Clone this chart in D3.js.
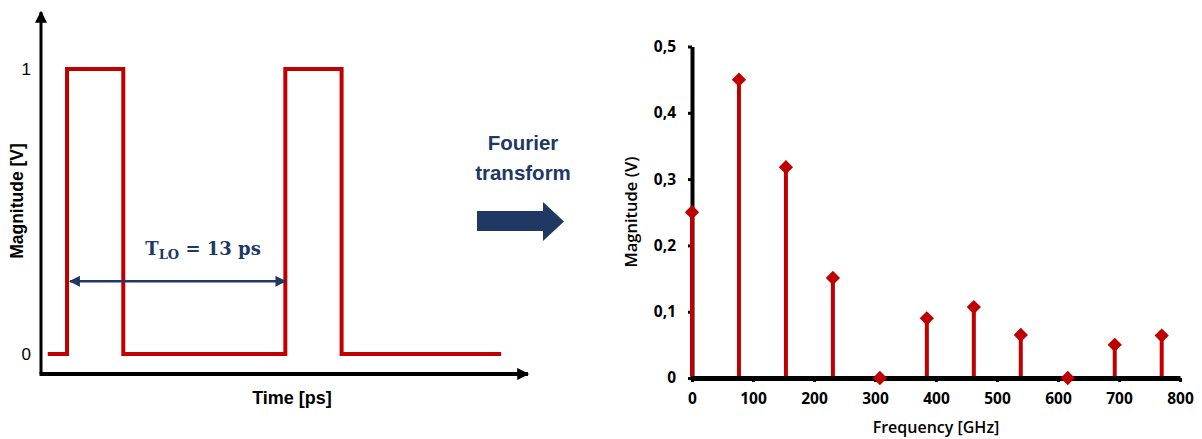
<!DOCTYPE html>
<html>
<head>
<meta charset="utf-8">
<script src="https://cdn.jsdelivr.net/npm/d3@7"></script>
<style>
  body { margin: 0; background: #ffffff; }
  svg { display: block; }
</style>
</head>
<body>
<div id="chart"></div>
<script>
// time-domain square wave (left panel)
var pulseTimes  = [0.4, 1.55, 1.55, 4.9, 4.9, 14.55, 14.55, 17.9, 17.9, 27.4];
var pulseLevels = [0,   0,    1,    1,   0,   0,     1,     1,    0,    0];
var levelTicks = [0, 1];
var periodStart = 1.55, periodEnd = 14.55, periodLevel = 0.255;

// spectrum (right panel)
var harmonicFreqs = [0, 77, 154, 231, 308, 385, 462, 539, 616, 693, 770];
var harmonicMags  = [0.25, 0.45, 0.318, 0.151, 0, 0.09, 0.107, 0.065, 0, 0.05, 0.064];
var freqTicks = [0, 100, 200, 300, 400, 500, 600, 700, 800];
var magTicks = [0, 0.1, 0.2, 0.3, 0.4, 0.5];
var magTickLabels = ["0", "0,1", "0,2", "0,3", "0,4", "0,5"];

var width = 1202, height = 439;
var red = "#c00000", navy = "#203864";

var svg = d3.select("#chart").append("svg")
    .attr("width", width)
    .attr("height", height);
svg.append("rect").attr("width", width).attr("height", height).attr("fill", "#fff");

var defs = svg.append("defs");
function arrowMarker(id, color, w, h) {
    defs.append("marker")
        .attr("id", id)
        .attr("viewBox", "0 0 10 10")
        .attr("refX", 9).attr("refY", 5)
        .attr("markerUnits", "userSpaceOnUse")
        .attr("markerWidth", w).attr("markerHeight", h)
        .attr("orient", "auto-start-reverse")
        .append("path")
        .attr("d", "M0,0L10,5L0,10Z")
        .attr("fill", color);
}
arrowMarker("blackArrow", "#000", 14, 12);
arrowMarker("navyArrow", navy, 13, 11);

// ---------- left panel ----------
var xT = d3.scaleLinear().domain([0, 29]).range([41, 528]);
var yT = d3.scaleLinear().domain([0, 1]).range([354, 69]);
var left = svg.append("g").attr("class", "left");

// axes with arrow heads
left.append("line")
    .attr("x1", xT(0)).attr("y1", yT(-0.07))
    .attr("x2", xT(0)).attr("y2", yT(1.2))
    .attr("stroke", "#000").attr("stroke-width", 3)
    .attr("marker-end", "url(#blackArrow)");
left.append("line")
    .attr("x1", xT(0) - 1.5).attr("y1", yT(-0.07))
    .attr("x2", xT(29)).attr("y2", yT(-0.07))
    .attr("stroke", "#000").attr("stroke-width", 4)
    .attr("marker-end", "url(#blackArrow)");

var yAxisT = left.append("g")
    .attr("transform", "translate(" + xT(0) + ",0)")
    .call(d3.axisLeft(yT).tickValues(levelTicks).tickFormat(d3.format("d")).tickSize(0).tickPadding(10));
yAxisT.select(".domain").remove();
yAxisT.selectAll("text")
    .attr("font-family", "Liberation Sans, Arial, sans-serif")
    .attr("font-size", 17).attr("fill", "#000");

var pulse = d3.range(pulseTimes.length).map(function (i) {
    return { t: pulseTimes[i], v: pulseLevels[i] };
});
var line = d3.line()
    .x(function (d) { return xT(d.t); })
    .y(function (d) { return yT(d.v); });
left.append("path")
    .datum(pulse)
    .attr("d", line)
    .attr("fill", "none")
    .attr("stroke", red)
    .attr("stroke-width", 4);

// period annotation
left.append("line")
    .attr("x1", xT(periodStart) + 3).attr("y1", yT(periodLevel))
    .attr("x2", xT(periodEnd)).attr("y2", yT(periodLevel))
    .attr("stroke", navy).attr("stroke-width", 2.5)
    .attr("marker-start", "url(#navyArrow)")
    .attr("marker-end", "url(#navyArrow)");
var tLabel = left.append("text")
    .attr("x", 203).attr("y", 255)
    .attr("text-anchor", "middle")
    .attr("font-family", "DejaVu Serif, serif")
    .attr("font-weight", "bold")
    .attr("font-size", 18)
    .attr("fill", navy);
tLabel.append("tspan").text("T");
tLabel.append("tspan").attr("font-size", 13).attr("dy", 4).text("LO");
tLabel.append("tspan").attr("dy", -4).text(" = 13 ps");

left.append("text")
    .attr("transform", "translate(23,201) rotate(-90)")
    .attr("text-anchor", "middle")
    .attr("font-family", "Liberation Sans, Arial, sans-serif")
    .attr("font-weight", "bold").attr("font-size", 17.5)
    .text("Magnitude [V]");
left.append("text")
    .attr("x", 292).attr("y", 404)
    .attr("text-anchor", "middle")
    .attr("font-family", "Liberation Sans, Arial, sans-serif")
    .attr("font-weight", "bold").attr("font-size", 18)
    .text("Time [ps]");

// ---------- middle: Fourier transform arrow ----------
var mid = svg.append("g").attr("class", "mid");
mid.append("text")
    .attr("x", 523).attr("text-anchor", "middle")
    .attr("font-family", "Liberation Sans, Arial, sans-serif")
    .attr("font-weight", "bold").attr("font-size", 20.5)
    .attr("fill", navy)
    .selectAll("tspan").data(["Fourier", "transform"]).enter()
    .append("tspan")
    .attr("x", 523)
    .attr("y", function (d, i) { return 150 + i * 30; })
    .text(function (d) { return d; });
mid.append("path")
    .attr("d", "M477,211H543V202L564,221.5L543,241V231H477Z")
    .attr("fill", navy);

// ---------- right panel ----------
var xF = d3.scaleLinear().domain([0, 800]).range([692, 1180]);
var yM = d3.scaleLinear().domain([0, 0.5]).range([378, 46.5]);
var right = svg.append("g").attr("class", "right");

var yAxisM = right.append("g")
    .attr("transform", "translate(" + xF(0) + ",0)")
    .call(d3.axisLeft(yM).tickValues(magTicks)
        .tickFormat(function (d, i) { return magTickLabels[i]; })
        .tickSize(4).tickSizeOuter(0).tickPadding(12));
yAxisM.select(".domain").attr("stroke-width", 4);
yAxisM.selectAll(".tick line").attr("stroke-width", 3);

var xAxisF = right.append("g")
    .attr("transform", "translate(0," + yM(0) + ")")
    .call(d3.axisBottom(xF).tickValues(freqTicks).tickSize(4).tickSizeOuter(0).tickPadding(11));
xAxisF.select(".domain").attr("stroke-width", 5);
xAxisF.selectAll(".tick line").attr("stroke-width", 3);

right.selectAll(".tick text")
    .attr("font-family", "Open Sans, sans-serif")
    .attr("font-weight", "bold")
    .attr("font-size", 15.5)
    .attr("fill", "#000");

var spec = d3.range(harmonicFreqs.length).map(function (i) {
    return { f: harmonicFreqs[i], m: harmonicMags[i] };
});
right.selectAll("line.stem").data(spec).enter()
    .append("line")
    .attr("class", "stem")
    .attr("x1", function (d) { return xF(d.f); })
    .attr("x2", function (d) { return xF(d.f); })
    .attr("y1", yM(0) - 2)
    .attr("y2", function (d) { return yM(d.m); })
    .attr("stroke", red)
    .attr("stroke-width", 4);
right.selectAll("path.mark").data(spec).enter()
    .append("path")
    .attr("class", "mark")
    .attr("d", d3.symbol().type(d3.symbolDiamond2).size(130))
    .attr("transform", function (d) { return "translate(" + xF(d.f) + "," + yM(d.m) + ")"; })
    .attr("fill", red);

right.append("text")
    .attr("transform", "translate(637,212) rotate(-90)")
    .attr("text-anchor", "middle")
    .attr("font-family", "Open Sans, sans-serif")
    .attr("font-weight", 600).attr("font-size", 16.5)
    .text("Magnitude (V)");
right.append("text")
    .attr("x", 936).attr("y", 433)
    .attr("text-anchor", "middle")
    .attr("font-family", "Open Sans, sans-serif")
    .attr("font-weight", 600).attr("font-size", 16)
    .text("Frequency [GHz]");
</script>
</body>
</html>
